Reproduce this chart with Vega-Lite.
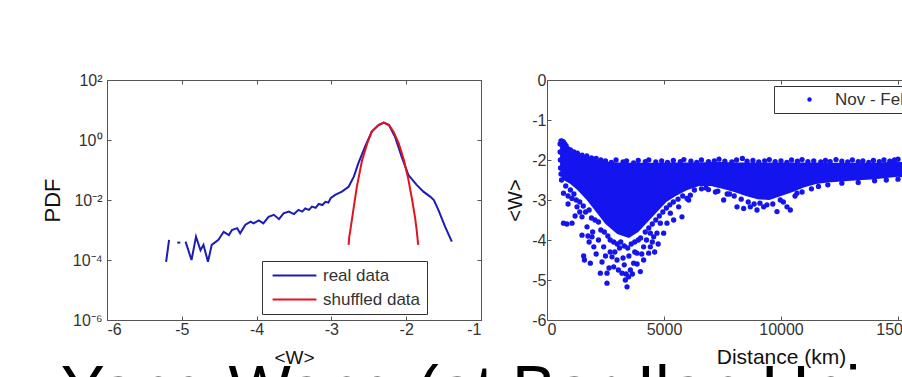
{
  "$schema": "https://vega.github.io/schema/vega-lite/v6.json",
  "padding": {"top": 71, "left": 40, "right": 0, "bottom": 0},
  "background": "white",
  "title": {
    "text": "Yang Wang (at Bar-Ilan University)",
    "orient": "bottom",
    "anchor": "start",
    "frame": "bounds",
    "fontSize": 66,
    "font": "Liberation Sans",
    "fontWeight": "normal",
    "color": "#000",
    "offset": -8,
    "dx": 20
  },
  "spacing": 23,
  "resolve": {"scale": {"color": "independent"}, "legend": {"color": "independent"}},
  "hconcat": [
    {
      "width": 374,
      "height": 240,
      "data": {"values": [
        {"series": "real data", "seg": "a", "w": -5.21, "pdf": 0.000087},
        {"series": "real data", "seg": "a", "w": -5.19, "pdf": 0.0002},
        {"series": "real data", "seg": "a", "w": -5.17, "pdf": 0.00047},
        {"series": "real data", "seg": "b", "w": -5.06, "pdf": 0.00038},
        {"series": "real data", "seg": "b", "w": -5.02, "pdf": 0.00038},
        {"series": "real data", "seg": "c", "w": -4.95, "pdf": 0.00041},
        {"series": "real data", "seg": "c", "w": -4.87, "pdf": 0.0001},
        {"series": "real data", "seg": "c", "w": -4.81, "pdf": 0.0006},
        {"series": "real data", "seg": "c", "w": -4.75, "pdf": 0.00021},
        {"series": "real data", "seg": "c", "w": -4.71, "pdf": 0.00032},
        {"series": "real data", "seg": "c", "w": -4.65, "pdf": 0.000087},
        {"series": "real data", "seg": "c", "w": -4.6, "pdf": 0.00032},
        {"series": "real data", "seg": "c", "w": -4.51, "pdf": 0.00047},
        {"series": "real data", "seg": "c", "w": -4.44, "pdf": 0.00087},
        {"series": "real data", "seg": "c", "w": -4.37, "pdf": 0.00068},
        {"series": "real data", "seg": "c", "w": -4.33, "pdf": 0.001},
        {"series": "real data", "seg": "c", "w": -4.26, "pdf": 0.00115},
        {"series": "real data", "seg": "c", "w": -4.22, "pdf": 0.00078},
        {"series": "real data", "seg": "c", "w": -4.15, "pdf": 0.0015},
        {"series": "real data", "seg": "c", "w": -4.08, "pdf": 0.0019},
        {"series": "real data", "seg": "c", "w": -4.04, "pdf": 0.00166},
        {"series": "real data", "seg": "c", "w": -3.97, "pdf": 0.0021},
        {"series": "real data", "seg": "c", "w": -3.91, "pdf": 0.00166},
        {"series": "real data", "seg": "c", "w": -3.84, "pdf": 0.00275},
        {"series": "real data", "seg": "c", "w": -3.77, "pdf": 0.0032},
        {"series": "real data", "seg": "c", "w": -3.7, "pdf": 0.0023},
        {"series": "real data", "seg": "c", "w": -3.64, "pdf": 0.0036},
        {"series": "real data", "seg": "c", "w": -3.57, "pdf": 0.0041},
        {"series": "real data", "seg": "c", "w": -3.5, "pdf": 0.0034},
        {"series": "real data", "seg": "c", "w": -3.44, "pdf": 0.0047},
        {"series": "real data", "seg": "c", "w": -3.39, "pdf": 0.0041},
        {"series": "real data", "seg": "c", "w": -3.35, "pdf": 0.0052},
        {"series": "real data", "seg": "c", "w": -3.3, "pdf": 0.0047},
        {"series": "real data", "seg": "c", "w": -3.26, "pdf": 0.006},
        {"series": "real data", "seg": "c", "w": -3.21, "pdf": 0.0055},
        {"series": "real data", "seg": "c", "w": -3.17, "pdf": 0.0074},
        {"series": "real data", "seg": "c", "w": -3.12, "pdf": 0.0068},
        {"series": "real data", "seg": "c", "w": -3.08, "pdf": 0.0087},
        {"series": "real data", "seg": "c", "w": -3.04, "pdf": 0.0082},
        {"series": "real data", "seg": "c", "w": -3.01, "pdf": 0.0115},
        {"series": "real data", "seg": "c", "w": -2.95, "pdf": 0.0148},
        {"series": "real data", "seg": "c", "w": -2.86, "pdf": 0.019},
        {"series": "real data", "seg": "c", "w": -2.77, "pdf": 0.0275},
        {"series": "real data", "seg": "c", "w": -2.7, "pdf": 0.06},
        {"series": "real data", "seg": "c", "w": -2.64, "pdf": 0.166},
        {"series": "real data", "seg": "c", "w": -2.55, "pdf": 0.6},
        {"series": "real data", "seg": "c", "w": -2.46, "pdf": 1.9},
        {"series": "real data", "seg": "c", "w": -2.37, "pdf": 3.16},
        {"series": "real data", "seg": "c", "w": -2.3, "pdf": 3.8},
        {"series": "real data", "seg": "c", "w": -2.23, "pdf": 3.16},
        {"series": "real data", "seg": "c", "w": -2.15, "pdf": 1.29},
        {"series": "real data", "seg": "c", "w": -2.06, "pdf": 0.275},
        {"series": "real data", "seg": "c", "w": -1.97, "pdf": 0.068},
        {"series": "real data", "seg": "c", "w": -1.86, "pdf": 0.032},
        {"series": "real data", "seg": "c", "w": -1.77, "pdf": 0.019},
        {"series": "real data", "seg": "c", "w": -1.68, "pdf": 0.013},
        {"series": "real data", "seg": "c", "w": -1.63, "pdf": 0.01},
        {"series": "real data", "seg": "c", "w": -1.57, "pdf": 0.0047},
        {"series": "real data", "seg": "c", "w": -1.48, "pdf": 0.0013},
        {"series": "real data", "seg": "c", "w": -1.39, "pdf": 0.00041},
        {"series": "shuffled data", "seg": "d", "w": -2.77, "pdf": 0.00032},
        {"series": "shuffled data", "seg": "d", "w": -2.76, "pdf": 0.00063},
        {"series": "shuffled data", "seg": "d", "w": -2.75, "pdf": 0.00087},
        {"series": "shuffled data", "seg": "d", "w": -2.7, "pdf": 0.006},
        {"series": "shuffled data", "seg": "d", "w": -2.66, "pdf": 0.0275},
        {"series": "shuffled data", "seg": "d", "w": -2.59, "pdf": 0.21},
        {"series": "shuffled data", "seg": "d", "w": -2.52, "pdf": 0.78},
        {"series": "shuffled data", "seg": "d", "w": -2.46, "pdf": 1.9},
        {"series": "shuffled data", "seg": "d", "w": -2.37, "pdf": 3.16},
        {"series": "shuffled data", "seg": "d", "w": -2.3, "pdf": 3.8},
        {"series": "shuffled data", "seg": "d", "w": -2.23, "pdf": 3.16},
        {"series": "shuffled data", "seg": "d", "w": -2.17, "pdf": 1.9},
        {"series": "shuffled data", "seg": "d", "w": -2.1, "pdf": 0.78},
        {"series": "shuffled data", "seg": "d", "w": -2.03, "pdf": 0.21},
        {"series": "shuffled data", "seg": "d", "w": -1.97, "pdf": 0.047},
        {"series": "shuffled data", "seg": "d", "w": -1.92, "pdf": 0.01},
        {"series": "shuffled data", "seg": "d", "w": -1.88, "pdf": 0.00245},
        {"series": "shuffled data", "seg": "d", "w": -1.86, "pdf": 0.001},
        {"series": "shuffled data", "seg": "d", "w": -1.84, "pdf": 0.00032}
      ]},
      "resolve": {"axis": {"x": "independent", "y": "independent"}},
      "layer": [
        {
          "mark": {"type": "line", "strokeWidth": 2},
          "encoding": {
            "x": {"field": "w", "type": "quantitative", "scale": {"domain": [-6, -1], "nice": false},
              "axis": {"values": [-6, -5, -4, -3, -2, -1], "labelExpr": "'' + datum.value", "title": "<W>", "titleFontSize": 19, "titlePadding": 11}},
            "y": {"field": "pdf", "type": "quantitative", "scale": {"type": "log", "domain": [0.000001, 100], "nice": false},
              "axis": {"values": [100, 1, 0.01, 0.0001, 0.000001], "labelExpr": "datum.value > 10 ? '10²' : datum.value > 0.1 ? '10⁰' : datum.value > 0.001 ? '10⁻²' : datum.value > 0.00001 ? '10⁻⁴' : '10⁻⁶'", "title": "PDF", "titleFontSize": 22, "labelPadding": 9, "titlePadding": 8}},
            "color": {"field": "series", "type": "nominal", "scale": {"domain": ["real data", "shuffled data"], "range": ["#1c1cb4", "#e0141e"]},
              "legend": {"orient": "none", "legendX": 155, "legendY": 181, "title": null, "symbolType": "M-5,0H5", "symbolSize": 77, "symbolStrokeWidth": 2, "labelFontSize": 17, "strokeColor": "#333", "fillColor": "white", "padding": 6, "rowPadding": 6, "symbolOffset": 18, "labelOffset": 20}},
            "detail": {"field": "seg"}
          }
        },
        {
          "mark": {"type": "point", "opacity": 0},
          "encoding": {
            "x": {"field": "w", "type": "quantitative", "axis": {"orient": "top", "values": [-6, -5, -4, -3, -2, -1], "labels": false, "title": null}},
            "y": {"field": "pdf", "type": "quantitative", "scale": {"type": "log"}, "axis": {"orient": "right", "values": [100, 1, 0.01, 0.0001, 0.000001], "labels": false, "title": null}}
          }
        }
      ]
    },
    {
      "width": 468,
      "height": 240,
      "resolve": {"axis": {"x": "independent", "y": "independent"}},
      "layer": [
        {
          "data": {"values": [
            {"d": 560, "top": -1.55, "bot": -2.2},
            {"d": 600, "top": -1.55, "bot": -2.4},
            {"d": 700, "top": -1.6, "bot": -2.5},
            {"d": 850, "top": -1.72, "bot": -2.55},
            {"d": 1000, "top": -1.78, "bot": -2.6},
            {"d": 1300, "top": -1.85, "bot": -2.75},
            {"d": 1700, "top": -1.92, "bot": -3.0},
            {"d": 2100, "top": -1.98, "bot": -3.3},
            {"d": 2500, "top": -2.04, "bot": -3.6},
            {"d": 3000, "top": -2.06, "bot": -3.85},
            {"d": 3500, "top": -2.07, "bot": -3.95},
            {"d": 3900, "top": -2.07, "bot": -3.8},
            {"d": 4300, "top": -2.07, "bot": -3.55},
            {"d": 4700, "top": -2.07, "bot": -3.3},
            {"d": 5100, "top": -2.06, "bot": -3.05},
            {"d": 5500, "top": -2.06, "bot": -2.9},
            {"d": 6000, "top": -2.06, "bot": -2.75},
            {"d": 6500, "top": -2.06, "bot": -2.65},
            {"d": 7000, "top": -2.05, "bot": -2.65},
            {"d": 7500, "top": -2.05, "bot": -2.72},
            {"d": 8000, "top": -2.06, "bot": -2.8},
            {"d": 8500, "top": -2.06, "bot": -2.9},
            {"d": 9000, "top": -2.06, "bot": -2.98},
            {"d": 9500, "top": -2.06, "bot": -3.0},
            {"d": 10000, "top": -2.06, "bot": -2.9},
            {"d": 10500, "top": -2.06, "bot": -2.8},
            {"d": 11000, "top": -2.06, "bot": -2.68},
            {"d": 11500, "top": -2.06, "bot": -2.6},
            {"d": 12000, "top": -2.07, "bot": -2.56},
            {"d": 13000, "top": -2.07, "bot": -2.52},
            {"d": 14000, "top": -2.07, "bot": -2.48},
            {"d": 15000, "top": -2.04, "bot": -2.42},
            {"d": 15500, "top": -2.07, "bot": -2.45}
          ]},
          "mark": {"type": "area", "color": "#1414ee"},
          "encoding": {
            "x": {"field": "d", "type": "quantitative", "scale": {"domain": [0, 20000], "nice": false},
              "axis": {"values": [0, 5000, 10000, 15000, 20000], "labelExpr": "'' + datum.value", "title": "Distance (km)", "titleFontSize": 21, "titlePadding": 9}},
            "y": {"field": "top", "type": "quantitative", "scale": {"domain": [-6, 0], "nice": false},
              "axis": {"values": [0, -1, -2, -3, -4, -5, -6], "labelExpr": "'' + datum.value", "title": "<W>", "titleFontSize": 20, "labelPadding": 5, "titlePadding": 6}},
            "y2": {"field": "bot"}
          }
        },
        {
          "data": {"values": [
            {"period": "Nov - Feb", "d": 600, "v": -1.52}, {"period": "Nov - Feb", "d": 650, "v": -1.53},
            {"period": "Nov - Feb", "d": 700, "v": -1.55}, {"period": "Nov - Feb", "d": 760, "v": -1.6},
            {"period": "Nov - Feb", "d": 820, "v": -1.65}, {"period": "Nov - Feb", "d": 900, "v": -1.72},
            {"period": "Nov - Feb", "d": 1000, "v": -1.75}, {"period": "Nov - Feb", "d": 1150, "v": -1.8},
            {"period": "Nov - Feb", "d": 1300, "v": -1.83}, {"period": "Nov - Feb", "d": 1500, "v": -1.88},
            {"period": "Nov - Feb", "d": 1700, "v": -1.9}, {"period": "Nov - Feb", "d": 1900, "v": -1.95},
            {"period": "Nov - Feb", "d": 2100, "v": -1.96}, {"period": "Nov - Feb", "d": 2300, "v": -2.0},
            {"period": "Nov - Feb", "d": 560, "v": -1.6}, {"period": "Nov - Feb", "d": 560, "v": -1.8},
            {"period": "Nov - Feb", "d": 570, "v": -2.0}, {"period": "Nov - Feb", "d": 580, "v": -2.2},
            {"period": "Nov - Feb", "d": 600, "v": -2.35}, {"period": "Nov - Feb", "d": 620, "v": -2.5},
            {"period": "Nov - Feb", "d": 2500, "v": -2.02}, {"period": "Nov - Feb", "d": 2750, "v": -2.06},
            {"period": "Nov - Feb", "d": 2950, "v": -2.0}, {"period": "Nov - Feb", "d": 3250, "v": -2.05},
            {"period": "Nov - Feb", "d": 3400, "v": -2.02}, {"period": "Nov - Feb", "d": 3700, "v": -2.07},
            {"period": "Nov - Feb", "d": 3900, "v": -2.01}, {"period": "Nov - Feb", "d": 4200, "v": -2.04},
            {"period": "Nov - Feb", "d": 4350, "v": -2.0}, {"period": "Nov - Feb", "d": 4650, "v": -2.05},
            {"period": "Nov - Feb", "d": 4900, "v": -2.02}, {"period": "Nov - Feb", "d": 5150, "v": -2.06},
            {"period": "Nov - Feb", "d": 5400, "v": -2.01}, {"period": "Nov - Feb", "d": 5700, "v": -2.04},
            {"period": "Nov - Feb", "d": 5850, "v": -1.99}, {"period": "Nov - Feb", "d": 6150, "v": -2.03},
            {"period": "Nov - Feb", "d": 6400, "v": -2.06}, {"period": "Nov - Feb", "d": 6600, "v": -2.0},
            {"period": "Nov - Feb", "d": 6900, "v": -2.04}, {"period": "Nov - Feb", "d": 7150, "v": -2.02},
            {"period": "Nov - Feb", "d": 7350, "v": -1.98}, {"period": "Nov - Feb", "d": 7600, "v": -2.03},
            {"period": "Nov - Feb", "d": 7900, "v": -2.05}, {"period": "Nov - Feb", "d": 8100, "v": -2.0},
            {"period": "Nov - Feb", "d": 8350, "v": -1.96}, {"period": "Nov - Feb", "d": 8550, "v": -2.03},
            {"period": "Nov - Feb", "d": 8800, "v": -2.01}, {"period": "Nov - Feb", "d": 9050, "v": -2.05},
            {"period": "Nov - Feb", "d": 9300, "v": -2.02}, {"period": "Nov - Feb", "d": 9500, "v": -1.99},
            {"period": "Nov - Feb", "d": 9750, "v": -2.04}, {"period": "Nov - Feb", "d": 10000, "v": -2.02},
            {"period": "Nov - Feb", "d": 10250, "v": -2.06}, {"period": "Nov - Feb", "d": 10450, "v": -2.0},
            {"period": "Nov - Feb", "d": 10700, "v": -2.03}, {"period": "Nov - Feb", "d": 10900, "v": -1.99},
            {"period": "Nov - Feb", "d": 11150, "v": -2.04}, {"period": "Nov - Feb", "d": 11400, "v": -2.02},
            {"period": "Nov - Feb", "d": 11700, "v": -2.05}, {"period": "Nov - Feb", "d": 11900, "v": -2.01},
            {"period": "Nov - Feb", "d": 12100, "v": -2.04}, {"period": "Nov - Feb", "d": 12350, "v": -1.99},
            {"period": "Nov - Feb", "d": 12600, "v": -2.03}, {"period": "Nov - Feb", "d": 12850, "v": -2.05},
            {"period": "Nov - Feb", "d": 13050, "v": -2.0}, {"period": "Nov - Feb", "d": 13300, "v": -2.04},
            {"period": "Nov - Feb", "d": 13500, "v": -2.02}, {"period": "Nov - Feb", "d": 13750, "v": -2.06},
            {"period": "Nov - Feb", "d": 13950, "v": -2.01}, {"period": "Nov - Feb", "d": 14200, "v": -2.04},
            {"period": "Nov - Feb", "d": 14400, "v": -2.0}, {"period": "Nov - Feb", "d": 14650, "v": -2.03},
            {"period": "Nov - Feb", "d": 14850, "v": -2.0}, {"period": "Nov - Feb", "d": 15000, "v": -1.98},
            {"period": "Nov - Feb", "d": 6300, "v": -2.75}, {"period": "Nov - Feb", "d": 6600, "v": -2.72},
            {"period": "Nov - Feb", "d": 6900, "v": -2.74}, {"period": "Nov - Feb", "d": 7200, "v": -2.8},
            {"period": "Nov - Feb", "d": 7700, "v": -2.85}, {"period": "Nov - Feb", "d": 8000, "v": -2.9},
            {"period": "Nov - Feb", "d": 8300, "v": -2.98}, {"period": "Nov - Feb", "d": 8600, "v": -3.05},
            {"period": "Nov - Feb", "d": 8850, "v": -3.1}, {"period": "Nov - Feb", "d": 9100, "v": -3.08},
            {"period": "Nov - Feb", "d": 9400, "v": -3.12}, {"period": "Nov - Feb", "d": 9650, "v": -3.1},
            {"period": "Nov - Feb", "d": 10100, "v": -3.05}, {"period": "Nov - Feb", "d": 10600, "v": -2.9},
            {"period": "Nov - Feb", "d": 10900, "v": -2.8}, {"period": "Nov - Feb", "d": 11300, "v": -2.72},
            {"period": "Nov - Feb", "d": 11600, "v": -2.66}, {"period": "Nov - Feb", "d": 12000, "v": -2.62},
            {"period": "Nov - Feb", "d": 12600, "v": -2.58}, {"period": "Nov - Feb", "d": 13300, "v": -2.56},
            {"period": "Nov - Feb", "d": 14000, "v": -2.52}, {"period": "Nov - Feb", "d": 14500, "v": -2.5},
            {"period": "Nov - Feb", "d": 15000, "v": -2.48},
            {"period": "Nov - Feb", "d": 800, "v": -2.65}, {"period": "Nov - Feb", "d": 900, "v": -2.9},
            {"period": "Nov - Feb", "d": 1000, "v": -2.75}, {"period": "Nov - Feb", "d": 1150, "v": -2.85},
            {"period": "Nov - Feb", "d": 1250, "v": -3.0}, {"period": "Nov - Feb", "d": 1400, "v": -3.05},
            {"period": "Nov - Feb", "d": 1550, "v": -3.15}, {"period": "Nov - Feb", "d": 1650, "v": -3.3},
            {"period": "Nov - Feb", "d": 1800, "v": -3.25}, {"period": "Nov - Feb", "d": 1900, "v": -3.45},
            {"period": "Nov - Feb", "d": 2050, "v": -3.5}, {"period": "Nov - Feb", "d": 2200, "v": -3.55},
            {"period": "Nov - Feb", "d": 2300, "v": -3.75}, {"period": "Nov - Feb", "d": 2450, "v": -3.8},
            {"period": "Nov - Feb", "d": 2600, "v": -3.9}, {"period": "Nov - Feb", "d": 2700, "v": -4.0},
            {"period": "Nov - Feb", "d": 2850, "v": -4.05}, {"period": "Nov - Feb", "d": 3000, "v": -4.1},
            {"period": "Nov - Feb", "d": 3150, "v": -4.05}, {"period": "Nov - Feb", "d": 3300, "v": -4.15},
            {"period": "Nov - Feb", "d": 3450, "v": -4.2}, {"period": "Nov - Feb", "d": 3600, "v": -4.1},
            {"period": "Nov - Feb", "d": 3750, "v": -4.05}, {"period": "Nov - Feb", "d": 3900, "v": -4.0},
            {"period": "Nov - Feb", "d": 4000, "v": -3.95}, {"period": "Nov - Feb", "d": 4200, "v": -3.8},
            {"period": "Nov - Feb", "d": 4350, "v": -3.7}, {"period": "Nov - Feb", "d": 4500, "v": -3.6},
            {"period": "Nov - Feb", "d": 4650, "v": -3.5}, {"period": "Nov - Feb", "d": 4800, "v": -3.4},
            {"period": "Nov - Feb", "d": 4950, "v": -3.3}, {"period": "Nov - Feb", "d": 5100, "v": -3.2},
            {"period": "Nov - Feb", "d": 5250, "v": -3.12}, {"period": "Nov - Feb", "d": 5400, "v": -3.05},
            {"period": "Nov - Feb", "d": 5600, "v": -2.98}, {"period": "Nov - Feb", "d": 5800, "v": -2.9},
            {"period": "Nov - Feb", "d": 2100, "v": -4.35}, {"period": "Nov - Feb", "d": 2350, "v": -4.55},
            {"period": "Nov - Feb", "d": 2500, "v": -4.4}, {"period": "Nov - Feb", "d": 2650, "v": -4.7},
            {"period": "Nov - Feb", "d": 2700, "v": -4.3}, {"period": "Nov - Feb", "d": 2900, "v": -4.3},
            {"period": "Nov - Feb", "d": 3050, "v": -4.75}, {"period": "Nov - Feb", "d": 3250, "v": -4.45},
            {"period": "Nov - Feb", "d": 3300, "v": -4.62}, {"period": "Nov - Feb", "d": 3380, "v": -4.85},
            {"period": "Nov - Feb", "d": 3500, "v": -4.4}, {"period": "Nov - Feb", "d": 3650, "v": -4.85},
            {"period": "Nov - Feb", "d": 3750, "v": -4.3}, {"period": "Nov - Feb", "d": 3850, "v": -4.6},
            {"period": "Nov - Feb", "d": 4050, "v": -4.35}, {"period": "Nov - Feb", "d": 4250, "v": -4.0},
            {"period": "Nov - Feb", "d": 4500, "v": -4.05}, {"period": "Nov - Feb", "d": 4600, "v": -4.3},
            {"period": "Nov - Feb", "d": 4750, "v": -4.1}, {"period": "Nov - Feb", "d": 1750, "v": -3.9},
            {"period": "Nov - Feb", "d": 1950, "v": -3.8}, {"period": "Nov - Feb", "d": 2200, "v": -4.0},
            {"period": "Nov - Feb", "d": 1400, "v": -3.3}, {"period": "Nov - Feb", "d": 1200, "v": -3.4},
            {"period": "Nov - Feb", "d": 900, "v": -3.1}, {"period": "Nov - Feb", "d": 850, "v": -3.6},
            {"period": "Nov - Feb", "d": 1800, "v": -4.05},
            {"period": "Nov - Feb", "d": 705, "v": -2.83}, {"period": "Nov - Feb", "d": 1068, "v": -2.96},
            {"period": "Nov - Feb", "d": 705, "v": -3.58}, {"period": "Nov - Feb", "d": 1068, "v": -3.58},
            {"period": "Nov - Feb", "d": 1282, "v": -3.17}, {"period": "Nov - Feb", "d": 1496, "v": -3.42},
            {"period": "Nov - Feb", "d": 1496, "v": -3.88}, {"period": "Nov - Feb", "d": 1567, "v": -4.4},
            {"period": "Nov - Feb", "d": 1600, "v": -4.5}, {"period": "Nov - Feb", "d": 1710, "v": -3.67},
            {"period": "Nov - Feb", "d": 1852, "v": -4.58}, {"period": "Nov - Feb", "d": 1923, "v": -3.92},
            {"period": "Nov - Feb", "d": 2000, "v": -4.17}, {"period": "Nov - Feb", "d": 2280, "v": -4.83},
            {"period": "Nov - Feb", "d": 2422, "v": -4.17}, {"period": "Nov - Feb", "d": 2564, "v": -4.83},
            {"period": "Nov - Feb", "d": 2564, "v": -5.08}, {"period": "Nov - Feb", "d": 2779, "v": -4.42},
            {"period": "Nov - Feb", "d": 2850, "v": -4.67}, {"period": "Nov - Feb", "d": 2992, "v": -4.5},
            {"period": "Nov - Feb", "d": 3100, "v": -4.2}, {"period": "Nov - Feb", "d": 3206, "v": -4.83},
            {"period": "Nov - Feb", "d": 3348, "v": -5.0}, {"period": "Nov - Feb", "d": 3420, "v": -5.17},
            {"period": "Nov - Feb", "d": 3490, "v": -4.92}, {"period": "Nov - Feb", "d": 3562, "v": -4.75},
            {"period": "Nov - Feb", "d": 3704, "v": -4.58}, {"period": "Nov - Feb", "d": 3846, "v": -4.33},
            {"period": "Nov - Feb", "d": 3989, "v": -4.79}, {"period": "Nov - Feb", "d": 4130, "v": -4.5},
            {"period": "Nov - Feb", "d": 4130, "v": -4.17}, {"period": "Nov - Feb", "d": 4345, "v": -4.33},
            {"period": "Nov - Feb", "d": 4416, "v": -4.17}, {"period": "Nov - Feb", "d": 4416, "v": -3.83},
            {"period": "Nov - Feb", "d": 4558, "v": -3.92}, {"period": "Nov - Feb", "d": 4700, "v": -3.83},
            {"period": "Nov - Feb", "d": 4843, "v": -3.58}, {"period": "Nov - Feb", "d": 4985, "v": -3.83},
            {"period": "Nov - Feb", "d": 5127, "v": -3.58}, {"period": "Nov - Feb", "d": 5270, "v": -3.33},
            {"period": "Nov - Feb", "d": 5412, "v": -3.5}, {"period": "Nov - Feb", "d": 5626, "v": -3.17},
            {"period": "Nov - Feb", "d": 5768, "v": -3.42}, {"period": "Nov - Feb", "d": 5983, "v": -2.96},
            {"period": "Nov - Feb", "d": 6053, "v": -3.0}, {"period": "Nov - Feb", "d": 6125, "v": -2.88},
            {"period": "Nov - Feb", "d": 6800, "v": -2.7}, {"period": "Nov - Feb", "d": 7300, "v": -2.78},
            {"period": "Nov - Feb", "d": 7550, "v": -3.0}, {"period": "Nov - Feb", "d": 7800, "v": -2.85},
            {"period": "Nov - Feb", "d": 8120, "v": -3.17}, {"period": "Nov - Feb", "d": 8404, "v": -3.21},
            {"period": "Nov - Feb", "d": 8689, "v": -3.17}, {"period": "Nov - Feb", "d": 8974, "v": -3.25},
            {"period": "Nov - Feb", "d": 9258, "v": -3.17}, {"period": "Nov - Feb", "d": 9828, "v": -3.29},
            {"period": "Nov - Feb", "d": 9970, "v": -3.0}, {"period": "Nov - Feb", "d": 10256, "v": -3.17},
            {"period": "Nov - Feb", "d": 10398, "v": -3.25}, {"period": "Nov - Feb", "d": 10683, "v": -2.83}
          ]},
          "mark": {"type": "point", "filled": true, "size": 28, "opacity": 1},
          "encoding": {
            "x": {"field": "d", "type": "quantitative", "axis": null},
            "y": {"field": "v", "type": "quantitative", "axis": null},
            "color": {"field": "period", "type": "nominal", "scale": {"range": ["#1414ee"]},
              "legend": {"orient": "none", "legendX": 227, "legendY": 6, "title": null, "symbolType": "circle", "symbolSize": 20, "labelFontSize": 17, "strokeColor": "#333", "fillColor": "white", "padding": 5, "symbolOffset": 22, "labelOffset": 17}}
          }
        },
        {
          "data": {"values": [{"d": 0, "v": 0}]},
          "mark": {"type": "point", "opacity": 0},
          "encoding": {
            "x": {"field": "d", "type": "quantitative", "axis": {"orient": "top", "values": [0, 5000, 10000, 15000, 20000], "labels": false, "title": null}},
            "y": {"field": "v", "type": "quantitative", "axis": {"orient": "right", "values": [0, -1, -2, -3, -4, -5, -6], "labels": false, "title": null}}
          }
        }
      ]
    }
  ],
  "config": {
    "view": {"stroke": "#555", "strokeWidth": 1},
    "axis": {"grid": false, "domain": false, "tickColor": "#555", "tickSize": -4, "labelFont": "Liberation Sans", "labelFontSize": 16, "labelColor": "#333", "titleFont": "Liberation Sans", "titleFontWeight": "normal", "titleColor": "#111", "labelPadding": 5},
    "legend": {"labelFont": "Liberation Sans", "labelColor": "#333", "cornerRadius": 0}
  }
}
